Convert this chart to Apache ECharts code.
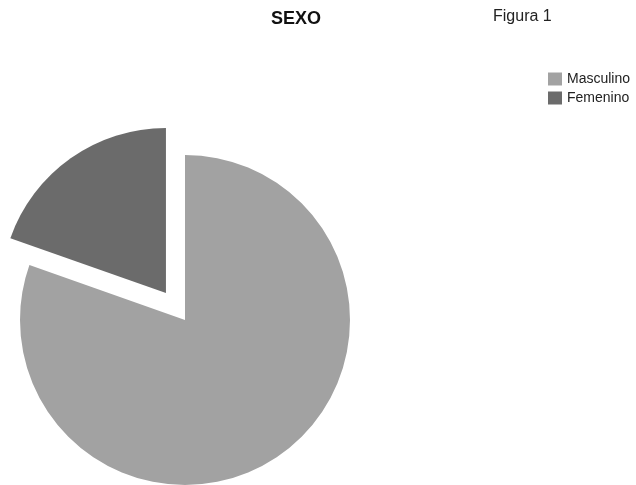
<!DOCTYPE html>
<html lang="es">
<head>
    <meta charset="UTF-8">
    <title>SEXO</title>
    <script src="https://cdn.jsdelivr.net/npm/echarts@6/dist/echarts.min.js"></script>
</head>
<style>
    *{
        margin: 0;
        padding: 0;
    }
    html , body{
        overflow: hidden;
        height: 100%;
        width: 100%;
        background: #fff;
    }
    .contain{
        width: 636px;
        height: 485px;
    }
</style>
<body>
<div class="contain"></div>
<script>
    // datos
    let categorias = ['Masculino', 'Femenino'];
    let valores = [80.4, 19.6];
    let colores = ['#a2a2a2', '#6b6b6b'];

    let chart = echarts.init(document.querySelector('.contain'));

    let datos = categorias.map((c, i) => ({
        name: c,
        value: valores[i],
        selected: c == 'Femenino',
        itemStyle: {color: colores[i]}
    }));

    let option = {
        animation: false,
        textStyle: {fontFamily: 'Liberation Sans, Arial, sans-serif'},
        title: [{
            text: 'SEXO',
            left: 271,
            top: 10,
            padding: 0,
            textStyle: {fontSize: 18, fontWeight: 'bold', color: '#111'}
        }, {
            text: 'Figura 1',
            left: 493,
            top: 9,
            padding: 0,
            textStyle: {fontSize: 16, fontWeight: 'normal', color: '#222'}
        }],
        legend: {
            orient: 'vertical',
            left: 548,
            top: 72,
            padding: 0,
            icon: 'rect',
            itemWidth: 14,
            itemHeight: 13,
            itemGap: 5,
            selectedMode: false,
            textStyle: {fontSize: 14, lineHeight: 13, color: '#222'},
            data: categorias
        },
        series: [{
            type: 'pie',
            center: [185, 320],
            radius: 165,
            startAngle: 90,
            selectedMode: 'single',
            selectedOffset: 33,
            label: {show: false},
            labelLine: {show: false},
            emphasis: {disabled: true},
            silent: true,
            data: datos
        }]
    };

    chart.setOption(option);
</script>
</body>
</html>
